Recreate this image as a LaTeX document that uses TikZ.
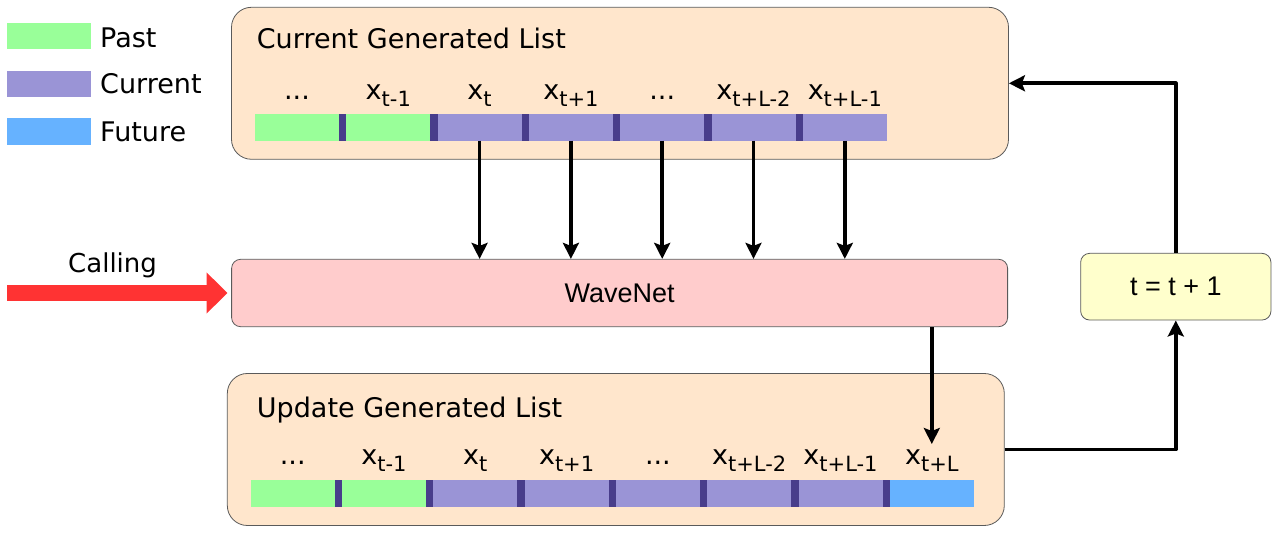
\documentclass[tikz,border=0pt]{standalone}
\usepackage{fontspec}
\setmainfont{DejaVu Sans}
\newfontfamily\arialfont{Liberation Sans}
\usetikzlibrary{arrows.meta}
\definecolor{boxorange}{HTML}{FFE6CC}
\definecolor{netpink}{HTML}{FFCCCC}
\definecolor{stepyellow}{HTML}{FFFFCC}
\definecolor{pastgreen}{HTML}{99FF99}
\definecolor{curpurple}{HTML}{9A94D6}
\definecolor{futblue}{HTML}{66B2FF}
\definecolor{sepdark}{HTML}{483D8B}
\definecolor{callred}{HTML}{FF3333}
\definecolor{edgegray}{HTML}{5A5A5A}
\newcommand{\xsub}[1]{x\raisebox{-6.5pt}{\fontsize{21}{21}\selectfont #1}}
\newcommand{\dotsym}{...}
\begin{document}
\begin{tikzpicture}[x=1pt,y=1pt,line join=round,>={Stealth[length=16pt,width=16pt,inset=3pt]},
  big/.style={font=\fontsize{27}{32}\selectfont},
  listbox/.style={draw=edgegray,line width=0.8pt,fill=boxorange,rounded corners=20pt,minimum width=777pt,minimum height=152pt},
  netbox/.style={draw=edgegray,line width=0.8pt,rounded corners=9pt,font=\arialfont\fontsize{27}{32}\selectfont},
  seg/.style={minimum width=84pt,minimum height=26.5pt,inner sep=0pt,outer sep=0pt},
  lbl/.style={big,anchor=base,inner sep=0pt},
  flow/.style={->,line width=3.6pt}]
\useasboundingbox (0,0) rectangle (1280,534);
\fill[pastgreen] (7.3,484.7) rectangle (91,510.7);
\fill[curpurple] (7.3,436.7) rectangle (91,463.3);
\fill[futblue] (7.3,389) rectangle (91,415.7);
\node[big,anchor=base west,inner sep=0pt] (past) at (100,486.7) {Past};
\node[big,anchor=base west,inner sep=0pt] (current) at (100,440) {Current};
\node[big,anchor=base west,inner sep=0pt] (future) at (100,392.3) {Future};
\node[listbox] (cur) at (620,450.7) {};
\node[listbox] (upd) at (615.8,84.5) {};
\node[big,anchor=base west,inner sep=0pt] (curtitle) at (256.7,485) {Current Generated List};
\node[big,anchor=base west,inner sep=0pt] (updtitle) at (256.7,116) {Update Generated List};
\fill[sepdark] (255,393.3) rectangle (886.7,419.7);
\foreach \c [count=\i from 0] in {pastgreen,pastgreen,curpurple,curpurple,curpurple,curpurple,curpurple}
  \node[seg,fill=\c] (c\i) at (297+91.3*\i,406.5) {};
\foreach \t [count=\i from 0] in {\dotsym,\xsub{t-1},\xsub{t},\xsub{t+1},\dotsym,\xsub{t+L-2},\xsub{t+L-1}}
  \node[lbl] (cl\i) at (c\i |- 0,434) {\t};
\fill[sepdark] (250.7,27.3) rectangle (974,54);
\foreach \c [count=\i from 0] in {pastgreen,pastgreen,curpurple,curpurple,curpurple,curpurple,curpurple,futblue}
  \node[seg,fill=\c] (u\i) at (292.7+91.3*\i,40.7) {};
\foreach \t [count=\i from 0] in {\dotsym,\xsub{t-1},\xsub{t},\xsub{t+1},\dotsym,\xsub{t+L-2},\xsub{t+L-1},\xsub{t+L}}
  \node[lbl] (ul\i) at (u\i |- 0,69) {\t};
\node[netbox,fill=netpink,minimum width=776pt,minimum height=67.4pt] (wave) at (619.6,241) {WaveNet};
\node[netbox,fill=stepyellow,minimum width=190.3pt,minimum height=66.7pt] (tbox) at (1175.8,247.3) {t = t + 1};
\foreach \i in {2,...,6}
  \draw[flow] (c\i.south) -- (c\i.south |- wave.north);
\coordinate (newtip) at (u7 |- 0,90);
\draw[flow] (wave.south -| u7) -- (newtip);
\draw[flow] (upd.east) -| (tbox.south);
\draw[flow] (tbox.north) |- (cur.east);
\node[font=\fontsize{26}{30}\selectfont,anchor=base west,inner sep=0pt] (calltxt) at (68,261.3) {Calling};
\coordinate (callstart) at (7,241);
\draw[callred,line width=16.7pt,-{Triangle[length=21pt,width=40pt]},shorten >=3.7pt] (callstart) -- (wave.west);
\end{tikzpicture}
\end{document}
